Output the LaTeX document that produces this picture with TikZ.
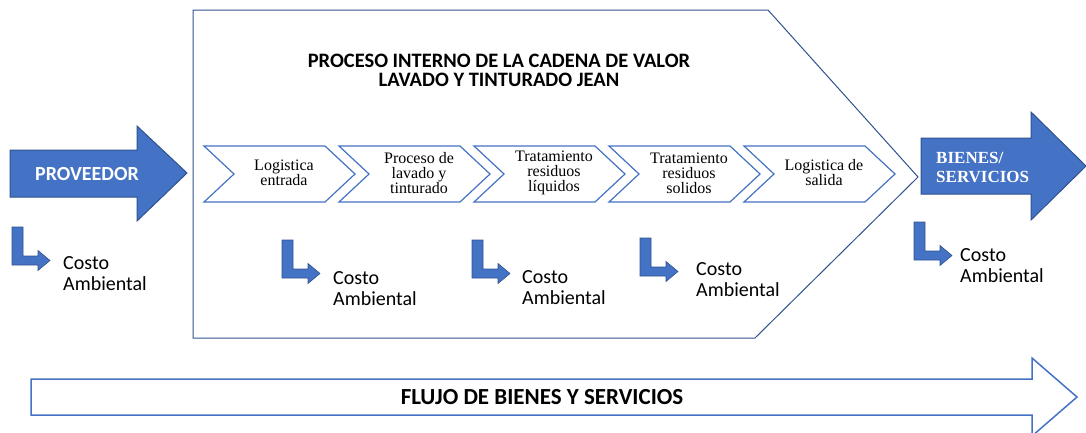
\documentclass[tikz,border=0pt]{standalone}
\usepackage{fontspec}
\setmainfont{Liberation Serif}
\newfontfamily\calfont{Carlito}
\definecolor{ablue}{HTML}{4472C4}
\definecolor{dblue}{HTML}{2F528F}
\tikzset{
  bluearrow/.style={fill=ablue, draw=dblue, line width=1pt},
  chevbox/.style={draw=ablue, fill=white, line width=1.2pt},
  chevtext/.style={align=center, inner sep=0pt, font=\fontsize{16}{15}\selectfont},
  costotext/.style={anchor=west, align=left, inner sep=0pt, font=\calfont\fontsize{20}{21}\selectfont},
}

\begin{document}
\begin{tikzpicture}[x=1pt,y=-1pt]
 \useasboundingbox (0,0) rectangle (1086,432);
 % cadena de valor
 \draw [dblue, line width=1pt] (193,10)--(768,10)--(918,177)--(755,338)--(193,338)--cycle;
 \node (titulo) [align=center, inner sep=0pt, font=\calfont\bfseries\fontsize{20.5}{19}\selectfont] at (499,70)
   {PROCESO INTERNO DE LA CADENA DE VALOR\\LAVADO Y TINTURADO JEAN};
 % proveedor
 \draw [bluearrow] (10,150)--(137,150)--(137,126)--(187,173)--(137,221)--(137,197)--(10,197)--cycle;
 \node (prov) [white, font=\calfont\bfseries\fontsize{20}{20}\selectfont] at (87,174) {PROVEEDOR};
 % bienes
 \draw [bluearrow] (921,138)--(1031,138)--(1031,112)--(1086,166)--(1031,220)--(1031,194)--(921,194)--cycle;
 \node (bienes) [white, anchor=west, align=left, inner sep=0pt, font=\bfseries\fontsize{17}{19}\selectfont] at (936,167) {BIENES/\\SERVICIOS};
 % eslabones
 \foreach \x/\n/\t in {204/1/{Logistica\\entrada}, 339/2/{Proceso de\\lavado y\\tinturado},
   474/3/{Tratamiento\\residuos\\líquidos}, 609/4/{Tratamiento\\residuos\\solidos}, 744/5/{Logistica de\\salida}}
 {
  \draw [chevbox] (\x,146) -- ++(121,0) -- ++(30,28) -- ++(-30,28) -- ++(-121,0) -- ++(30,-28) -- cycle;
  \node (chev\n) [chevtext] at (\x+80,173) {\t};
 }
 % costo ambiental
 \foreach \x/\y/\tx/\ty/\n in {12/227/63/268/1, 282/240/333/283/2, 472/240/522/282/3, 640/238/696/274/4, 914/222/960/260/5}
 {
  \fill [ablue, draw=dblue, line width=0.6pt, shift={(\x,\y)}] (0,0)--(11,0)--(11,29)--(26,29)--(26,23.5)--(38,33.5)--(26,43.5)--(26,38)--(0,38)--cycle;
  \node (costo\n) [costotext] at (\tx,\ty+6) {Costo\\Ambiental};
 }
 % flujo
 \draw [ablue, line width=1.5pt] (31,379)--(1032,379)--(1032,358)--(1077,397)--(1032,436)--(1032,415)--(31,415)--cycle;
 \node (flujo) [font=\calfont\bfseries\fontsize{23}{24}\selectfont] at (542,397) {FLUJO DE BIENES Y SERVICIOS};
\end{tikzpicture}
\end{document}
